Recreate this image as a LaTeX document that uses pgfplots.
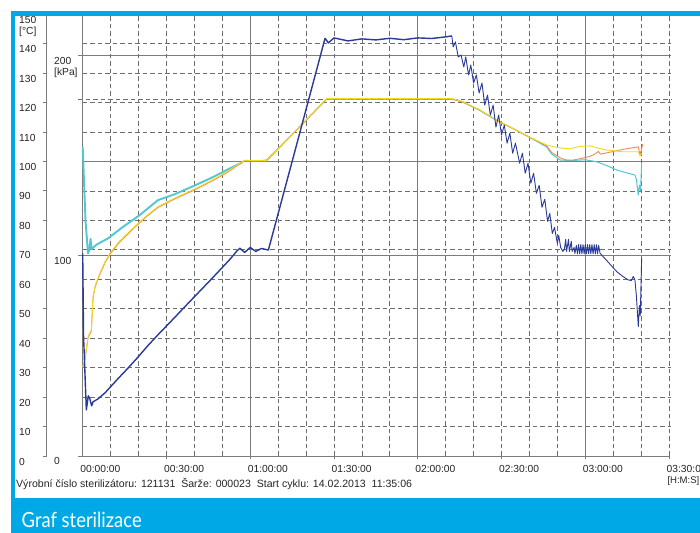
\documentclass[border=0pt]{standalone}
\usepackage{pgfplots}
\pgfplotsset{compat=1.18}
\usepackage{fontspec}
\setmainfont{Liberation Sans}
\newfontfamily\capfont{Lato}[FakeStretch=0.88]
\definecolor{frameblue}{HTML}{00A9E6}
\definecolor{navy}{HTML}{2A3A98}
\definecolor{cyanT}{HTML}{52C6D3}
\definecolor{yellowT}{HTML}{F2DA1A}
\definecolor{orangeT}{HTML}{EE8C58}
\definecolor{gridd}{HTML}{6E6E6E}
\definecolor{grids}{HTML}{7C7C7C}
\tikzset{gd/.style={draw=gridd,line width=0.75bp,dash pattern=on 4.5bp off 3bp},
         gs/.style={draw=grids,line width=0.9bp},
         lab/.style={font=\fontsize{10.3}{12}\selectfont,inner sep=0pt,text=black!85}}
\begin{document}
\begin{tikzpicture}[x=1bp,y=1bp]
\useasboundingbox (0,0) rectangle (700,533);
\clip (0,0) rectangle (700,533);
\fill[white] (0,0) rectangle (700,533);
% horizontal grid
\foreach \k in {1,...,9,11,12,13,14,15}
  \draw[gd] (82.7,{77+\k*29.45}) -- (671,{77+\k*29.45});
\draw[gs] (82.7,371.5) -- (671,371.5);
\draw[gs] (78,277.5) -- (671,277.5);
\draw[gs] (78,478) -- (671,478);
\draw[gd] (78,433.7) -- (671,433.7);
% vertical grid
\foreach \m in {10,20,30,40,50,70,80,90,100,110,130,140,150,160,170,190,200,210}
  \draw[gd] ({82.7+\m*2.792},77) -- ({82.7+\m*2.792},518);
\foreach \m in {60,120,180}
  \draw[gs] ({82.7+\m*2.792},77) -- ({82.7+\m*2.792},518);
\foreach \m in {30,60,...,210}
  \draw[gs] ({82.7+\m*2.792},77) -- ({82.7+\m*2.792},74);
% axes
\draw[gs] (78,77) -- (669,77);
\draw[gs] (82.7,77) -- (82.7,518.75);
\draw[gs] (46.7,77) -- (46.7,518.75);
\foreach \k in {0,...,15}
  \draw[gs] (42.7,{77+\k*29.45}) -- (46.7,{77+\k*29.45});
% temperature labels
\foreach \k in {0,...,15}
  \node[lab,anchor=west] at (19,{77+\k*29.45-5.5}) {\pgfmathparse{int(\k*10)}\pgfmathresult};
\node[lab,anchor=west] at (19,501.5) {[°C]};
% kPa labels
\node[lab,anchor=west] at (54,72) {0};
\node[lab,anchor=west] at (54,272) {100};
\node[lab,anchor=west] at (54,472) {200};
\node[lab,anchor=west] at (54,460.3) {[kPa]};
% x labels
\foreach \m/\l in {0/00:00:00,30/00:30:00,60/01:00:00,90/01:30:00,120/02:00:00,150/02:30:00,180/03:00:00,210/03:30:00}
  \node[lab,anchor=west] at ({82.7+\m*2.792-2.5},63.7) {\l};
\node[lab,anchor=west,font=\fontsize{9.6}{10}\selectfont] at (667.3,52.3) {[H:M:S]};
\node[lab,anchor=west,font=\fontsize{10.6}{12}\selectfont] at (16,49.5) {Výrobní číslo sterilizátoru: 121131\ \ Šarže: 000023\ \ Start cyklu: 14.02.2013\ \ 11:35:06};

% temperature axis
\begin{axis}[at={(82.7bp,77bp)},anchor=south west,scale only axis,
  width=586.3bp,height=441.75bp,xmin=0,xmax=210,ymin=0,ymax=150,
  hide axis,clip=false]
\addplot[cyanT,line width=1.9bp,line join=round] coordinates {
(0,105) (0.4,95) (1.0,80) (1.9,68.8) (2.4,70) (2.8,73.7) (3.2,70.3) (5,71.8)
(9.1,73.9) (14,77.5) (20,81.5) (27,86.9) (33,88.9) (40,91.8) (46,94.4) (52,97.3) (56.9,99.6)};
\addplot[cyanT,line width=1.0bp,line join=round] coordinates {
(56.9,99.6) (58,100.4) (62,100.2) (65.9,100.5) (87.4,121.2) (132.2,121.2) (136,120.3)
(142.3,117.3) (148.3,113.9) (155,110.8) (160,108.3) (166.2,104.9) (168,102.5) (171,100.5)
(175,100.3) (180,100.6) (184.1,99.9) (188,98.5) (191.3,97.1) (195,96.1) (197.8,95.4)
(198.3,94) (199,88.6) (199.4,92) (199.8,90) (200.2,99.4)};
\addplot[orangeT,line width=0.9bp,line join=round] coordinates {
(0,30.0) (0.8,32.5) (1.9,40) (3.1,42.5) (3.7,53.6) (4.5,57.6) (6.1,61.6) (8,65.6)
(9.7,68.4) (13,72.4) (18.6,77.6) (23,81.4) (27,84.4) (33,87.3) (40,90.3) (46,93.2)
(52,96.4) (56.9,99.6) (58,100.2) (65.9,100.2) (87.4,121.2) (132.2,121.2) (136,120.2)
(142.3,117.4) (148.3,114.0) (155,110.7) (160,108.2) (166.2,105.3) (168,103) (171.3,101.1)
(173.3,100.5) (175.7,100.5) (178,100.9) (181.6,101.7) (183.6,102.6) (184.7,103.4)
(185.5,102.5) (188,103) (193.6,104.1) (199.0,105.0) (199.6,102.2) (200.6,105.9)};
\addplot[yellowT,line width=0.9bp,line join=round] coordinates {
(0,30.3) (0.8,33) (1.9,40.5) (3.1,42.8) (3.7,54.1) (4.5,58) (6.1,62.0) (8,66)
(9.7,68.8) (13,72.8) (18.6,77.9) (23,81.7) (27,84.7) (33,87.6) (40,90.6) (46,93.5)
(52,96.7) (56.9,99.8) (58,100.3) (65.9,100.3) (87.4,121.4) (132.2,121.4) (136,120.4)
(142.3,117.5) (148.3,114.1) (155,110.8) (160,108.3) (166.2,105.6) (168.6,105.0)
(171,104.6) (174.5,104.3) (178,105.1) (181.6,105.3) (184.5,104.6) (187.7,103.9)
(193.6,103.3) (199.0,103.3) (199.6,101.9) (200.2,102.8)};
\end{axis}
% pressure axis
\begin{axis}[at={(82.7bp,77bp)},anchor=south west,scale only axis,
  width=586.3bp,height=441.75bp,xmin=0,xmax=210,ymin=0,ymax=220.3,
  hide axis,clip=false]
\addplot[navy,line width=1.4bp,line join=round] coordinates {
(0,101) (0.3,60) (1.3,23) (2.0,30) (2.5,28.8) (3.2,25) (3.7,27) (5.5,28.5) (8,31.5)
(12.6,38.5) (16,43.5) (19.8,49.3) (23,54.5) (27,60.5) (32.4,68.3) (38,76.5) (45.6,87.5)
(50,94) (53,98.5) (55.2,102.2) (56.3,103.6) (58,101.5) (60,104) (62,102) (64,103.5)
(66.5,102.7) (76,152) (86.8,208.3) (88,206) (90,208.5) (95,207) (100,208) (105,207.5)
(110,208.3) (115,207.6) (120,208.5) (125,208.2) (130,209) (132.2,209.5)};
\addplot[navy,line width=0.9bp,line join=round] coordinates {
(132.2,209.5) (132.7,204) (133.5,206.5) (134.5,199)
(135.5,200) (136.5,194) (137.2,199) (138.2,190) (139.0,195) (140.0,186) (141,190)
(142,181) (143,186) (144,175) (145,180) (146,170) (147,175) (148,164) (149,170)
(150,160) (151,165) (152,156) (153,161) (154,151) (155,156) (156.5,146) (157.5,151)
(158.5,141) (159.5,146) (160.5,136) (161.5,141) (162.5,131) (163.5,135) (164.5,124)
(165.5,128) (166.5,117) (167.3,121) (168.2,111) (169,114) (170,106) (170.5,110)
(171.2,104) (172,102) (172.5,103) (173,108) (173.3,102) (174,108) (174.3,102) (175,107)
(175.3,102) (176,104) (176.3,101) (176.8,105) (177.2,100.8) (177.6,105.4) (178.0,100.8)
(178.4,105.4) (178.8,100.8) (179.2,105.4) (179.6,100.8) (180.0,105.4) (180.4,100.8)
(180.8,105.4) (181.2,100.8) (181.6,105.4) (182.0,100.8) (182.4,105.4) (182.8,100.8)
(183.2,105.4) (183.6,100.8) (184.0,105.4) (184.4,100.8) (184.8,105) (185.3,101.1)
(188,97) (191.3,91.9) (193.5,89.5) (195.4,87.8) (196.5,87.5) (197.2,89.5) (197.8,87.8)
(198.3,80) (199.0,64.5) (199.4,75) (199.7,70) (200.2,98.6)};
\end{axis}
% frame
\fill[frameblue] (11,0) rectangle (15,522);
\fill[frameblue] (11,517) rectangle (700,522);
\fill[frameblue] (11,0) rectangle (700,35.3);
\node[anchor=base west,inner sep=0pt,text=white,font=\capfont\fontsize{21}{24}\selectfont] at (21.5,5.5) {Graf sterilizace};
\end{tikzpicture}
\end{document}
